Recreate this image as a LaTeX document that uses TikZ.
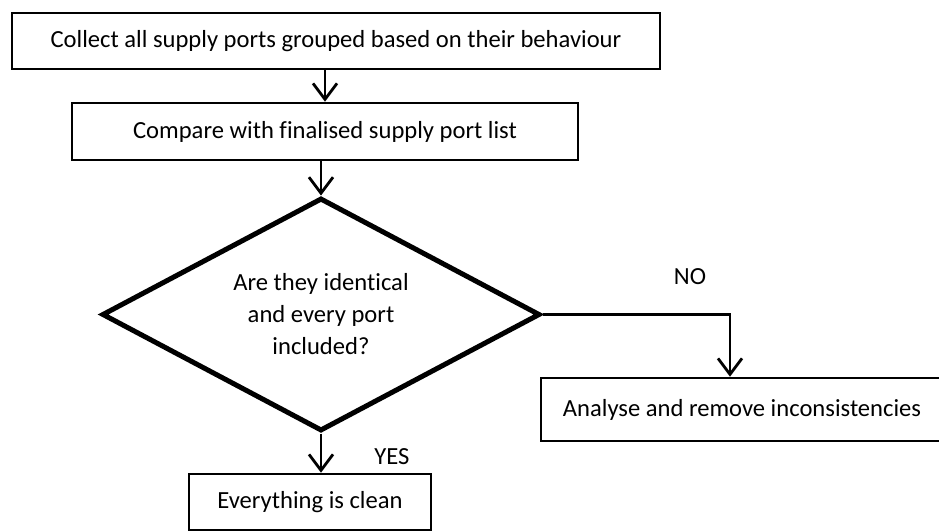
\documentclass[tikz,border=0pt]{standalone}
\usepackage{fontspec}
\setmainfont{Carlito}[Ligatures=NoCommon]
\usetikzlibrary{shapes.geometric,arrows.meta,calc}
\begin{document}
\begin{tikzpicture}[x=1pt,y=-1pt,
  every node/.style={font=\fontsize{24.6}{32}\selectfont},
  procbox/.style={draw,line width=2.6pt,rectangle,inner sep=0pt,align=center},
  decision/.style={draw,line width=5pt,diamond,aspect=2,inner sep=0pt,align=center,
    minimum width=438pt,minimum height=233pt},
  flow/.style={line width=2.8pt,-{Straight Barb[length=16pt,width=24pt,line width=2.8pt]}},
  lbl/.style={inner sep=0pt}]
\useasboundingbox[fill=white] (0,0) rectangle (939,531);
\node[procbox,minimum width=648pt,minimum height=56pt] (top) at (336,41) {Collect all supply ports grouped based on their behaviour};
\node[procbox,minimum width=506pt,minimum height=57pt] (cmp) at (325,131.5) {Compare with finalised supply port list};
\node[decision] (dia) at (321,314.5) {Are they identical\\and every port\\included?};
\node[procbox,minimum width=402pt,minimum height=63pt] (ana) at (742,409.5) {Analyse and remove inconsistencies};
\node[procbox,minimum width=242pt,minimum height=56pt] (cln) at (310,502) {Everything is clean};
\coordinate (turn) at (730,316);
\draw[flow] (cmp.north |- top.south) -- (cmp.north);
\draw[flow] (cmp.south -| dia.north) -- (dia.north);
\draw[flow] (dia.south) -- (dia.south |- cln.north);
\draw[flow] (dia.east) -- (dia.east -| turn) -- (turn |- ana.north);
\node[lbl] (no) at (690,277) {NO};
\node[lbl] (yes) at (392,457) {YES};
\end{tikzpicture}
\end{document}
